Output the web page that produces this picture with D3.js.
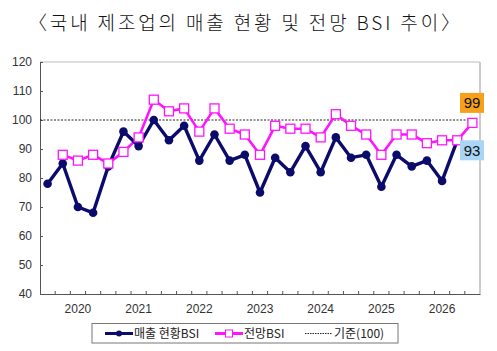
<!DOCTYPE html>
<html><head><meta charset="utf-8">
<script src="https://cdn.jsdelivr.net/npm/d3@7"></script>
<style>body{margin:0;background:#fff}</style>
</head><body>
<svg id="chart" width="497" height="351"></svg>
<script>
// ---- data ----
const categories = ["2019Q3","2019Q4","2020Q1","2020Q2","2020Q3","2020Q4","2021Q1","2021Q2","2021Q3","2021Q4",
  "2022Q1","2022Q2","2022Q3","2022Q4","2023Q1","2023Q2","2023Q3","2023Q4","2024Q1","2024Q2","2024Q3","2024Q4",
  "2025Q1","2025Q2","2025Q3","2025Q4","2026Q1","2026Q2","2026Q3"];
const salesCurrent = [78,85,70,68,84,96,91,100,93,98,86,95,86,88,75,87,82,91,82,94,87,88,77,88,84,86,79,93,null];
const salesOutlook = [null,88,86,88,85,89,94,107,103,104,96,104,97,95,88,98,97,97,94,102,98,95,88,95,95,92,93,93,99];
const baseline = 100;
const yTicks = [40,50,60,70,80,90,100,110,120];
const yearLabels = [["2020","2020Q1"],["2021","2021Q1"],["2022","2022Q1"],["2023","2023Q1"],["2024","2024Q1"],["2025","2025Q1"],["2026","2026Q1"]];
const title = "〈국내 제조업의 매출 현황 및 전망 BSI 추이〉";
const legendNames = ["매출 현황BSI","전망BSI","기준(100)"];

// ---- layout ----
const svg = d3.select("#chart");
const L = 40, R = 480, T = 62, B = 294;
const x = d3.scaleBand().domain(categories).range([L, R]);
const y = d3.scaleLinear().domain([40,120]).range([B, T]);
const cx = c => x(c) + x.bandwidth()/2;
const NAVY = "#0b0b6b", PINK = "#ff14ff";
const sans = "'Liberation Sans', Arial, sans-serif";
const kr = "'Noto Sans CJK KR', sans-serif";

// title
svg.append("text").attr("x", 28).attr("y", 30)
  .attr("font-family", "'Noto Sans CJK KR', serif").attr("font-size", 19).attr("font-weight", 300)
  .attr("fill", "#111").attr("textLength", 432).attr("lengthAdjust", "spacing").text(title);

// frame (top/right light)
svg.append("line").attr("x1", L).attr("x2", R).attr("y1", T).attr("y2", T).attr("stroke", "#bbb");
svg.append("line").attr("x1", R).attr("x2", R).attr("y1", T).attr("y2", B).attr("stroke", "#bbb").attr("stroke-width", 1.5);

// y axis
const yAxis = svg.append("g").attr("transform", `translate(${L},0)`)
  .call(d3.axisLeft(y).tickValues(yTicks).tickSize(-3).tickPadding(8).tickSizeOuter(0));
yAxis.select(".domain").attr("stroke", "#555");
yAxis.selectAll(".tick line").attr("stroke", "#555");
yAxis.selectAll("text").attr("font-family", sans).attr("font-size", 12).attr("fill", "#333");

// x axis
const xAxis = svg.append("g").attr("transform", `translate(0,${B})`)
  .call(d3.axisBottom(x).tickSize(0).tickFormat(""));
xAxis.select(".domain").attr("stroke", "#555");
xAxis.selectAll(".tick").remove();
const bounds = categories.slice(1).map(c => x(c));
svg.append("g").selectAll("line").data(bounds).join("line")
  .attr("x1", d => d).attr("x2", d => d).attr("y1", B).attr("y2", B - 3).attr("stroke", "#555");
svg.append("g").selectAll("text").data(yearLabels).join("text")
  .attr("x", d => cx(d[1])).attr("y", B + 19).attr("text-anchor", "middle")
  .attr("font-family", sans).attr("font-size", 12).attr("fill", "#333").text(d => d[0]);

// baseline
svg.append("line").attr("x1", L).attr("x2", R - 5).attr("y1", y(baseline)).attr("y2", y(baseline))
  .attr("stroke", "#222").attr("stroke-width", 1).attr("stroke-dasharray", "2,1.5");

const cur = categories.map((c,i) => ({c, v: salesCurrent[i]}));
const out = categories.map((c,i) => ({c, v: salesOutlook[i]}));
const line = d3.line().defined(d => d.v != null).x(d => cx(d.c)).y(d => y(d.v));

svg.append("path").datum(out).attr("d", line).attr("fill", "none").attr("stroke", PINK)
  .attr("stroke-width", 2.6).attr("stroke-linejoin", "round");
svg.append("path").datum(cur).attr("d", line).attr("fill", "none").attr("stroke", NAVY)
  .attr("stroke-width", 3.4).attr("stroke-linejoin", "round").attr("stroke-linecap", "round");
svg.append("g").selectAll("circle").data(cur.filter(d => d.v != null)).join("circle")
  .attr("cx", d => cx(d.c)).attr("cy", d => y(d.v)).attr("r", 4.3).attr("fill", NAVY);
svg.append("g").selectAll("rect").data(out.filter(d => d.v != null)).join("rect")
  .attr("x", d => cx(d.c) - 4.5).attr("y", d => y(d.v) - 4.5).attr("width", 9).attr("height", 9)
  .attr("fill", "#fff").attr("stroke", PINK).attr("stroke-width", 1.3);

// end labels
const lastOut = out[out.length - 1], lastCur = cur[cur.length - 2];
function endLabel(val, yc, fill) {
  const g = svg.append("g");
  g.append("rect").attr("x", 460).attr("y", yc - 10).attr("width", 24).attr("height", 20).attr("fill", fill);
  g.append("text").attr("x", 472).attr("y", yc + 5.5).attr("text-anchor", "middle")
    .attr("font-family", sans).attr("font-size", 15).attr("fill", "#111").text(val);
}
endLabel(lastOut.v, y(lastOut.v) - 20, "#f7a01c");
endLabel(lastCur.v, y(lastCur.v) + 10, "#a9d5f6");

// legend
const lg = svg.append("g");
lg.append("rect").attr("x", 92).attr("y", 323.5).attr("width", 306).attr("height", 19.5)
  .attr("fill", "#fff").attr("stroke", "#777").attr("stroke-width", 1);
const ly = 333.5;
lg.append("line").attr("x1", 105).attr("x2", 133).attr("y1", ly).attr("y2", ly).attr("stroke", NAVY).attr("stroke-width", 3);
lg.append("circle").attr("cx", 119).attr("cy", ly).attr("r", 3).attr("fill", NAVY);
lg.append("text").attr("x", 134).attr("y", ly + 4.5).attr("font-family", kr).attr("font-size", 12).attr("fill", "#222").text(legendNames[0]);
lg.append("line").attr("x1", 215).attr("x2", 243).attr("y1", ly).attr("y2", ly).attr("stroke", PINK).attr("stroke-width", 3);
lg.append("rect").attr("x", 225.5).attr("y", ly - 3.5).attr("width", 7).attr("height", 7).attr("fill", "#fff").attr("stroke", PINK);
lg.append("text").attr("x", 244).attr("y", ly + 4.5).attr("font-family", kr).attr("font-size", 12).attr("fill", "#222").text(legendNames[1]);
lg.append("line").attr("x1", 305).attr("x2", 332).attr("y1", ly).attr("y2", ly).attr("stroke", "#222").attr("stroke-width", 1).attr("stroke-dasharray", "1.5,1");
lg.append("text").attr("x", 334).attr("y", ly + 4.5).attr("font-family", kr).attr("font-size", 12).attr("fill", "#222").text(legendNames[2]);
</script>
</body></html>
